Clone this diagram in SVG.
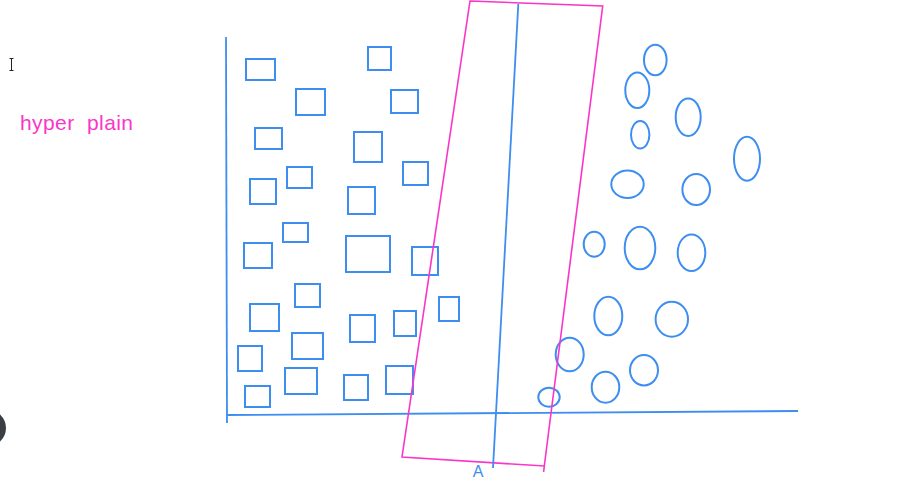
<svg xmlns="http://www.w3.org/2000/svg" width="909" height="481" viewBox="0 0 909 481">
<style>
.sq{fill:none;stroke:#3d8ef0;stroke-width:2}
.el{fill:none;stroke:#3d8ef0;stroke-width:2}
.ax{fill:none;stroke:#3d8ef0;stroke-width:1.8}
.mg{fill:none;stroke:#fa35c8;stroke-width:1.6}
.lbl{font-family:"Liberation Sans",Arial,sans-serif}
</style>
<rect width="909" height="481" fill="#ffffff"/>
<g id="cursor"><path d="M9.5 58.5h4M11.5 58.5v12M9.5 70.5h4" stroke="#222" stroke-width="1" fill="none"/></g>
<g id="dot"><circle cx="-12" cy="428" r="18" fill="#3a3f44"/></g>
<g id="label-hyperplain"><text class="lbl" x="20" y="130" font-size="21" fill="#fa35c8" xml:space="preserve" textLength="113" lengthAdjust="spacing">hyper  plain</text></g>
<g id="axes">
<line class="ax" x1="226" y1="37" x2="227" y2="423"/>
<line class="ax" x1="227" y1="415" x2="798" y2="411"/>
</g>
<g id="squares">
<rect class="sq" x="246" y="59" width="29" height="21"/>
<rect class="sq" x="296" y="89" width="29" height="26"/>
<rect class="sq" x="368" y="47" width="23" height="23"/>
<rect class="sq" x="391" y="90" width="27" height="23"/>
<rect class="sq" x="255" y="128" width="27" height="21"/>
<rect class="sq" x="354" y="132" width="28" height="30"/>
<rect class="sq" x="287" y="167" width="25" height="21"/>
<rect class="sq" x="403" y="162" width="25" height="23"/>
<rect class="sq" x="250" y="179" width="26" height="25"/>
<rect class="sq" x="348" y="187" width="27" height="27"/>
<rect class="sq" x="283" y="223" width="25" height="19"/>
<rect class="sq" x="244" y="243" width="28" height="25"/>
<rect class="sq" x="346" y="236" width="44" height="36"/>
<rect class="sq" x="412" y="247" width="26" height="28"/>
<rect class="sq" x="295" y="284" width="25" height="23"/>
<rect class="sq" x="439" y="297" width="20" height="24"/>
<rect class="sq" x="250" y="304" width="29" height="27"/>
<rect class="sq" x="350" y="315" width="25" height="27"/>
<rect class="sq" x="394" y="311" width="22" height="25"/>
<rect class="sq" x="292" y="333" width="31" height="26"/>
<rect class="sq" x="238" y="346" width="24" height="25"/>
<rect class="sq" x="285" y="368" width="32" height="26"/>
<rect class="sq" x="344" y="375" width="24" height="25"/>
<rect class="sq" x="386" y="366" width="27" height="28"/>
<rect class="sq" x="245" y="386" width="25" height="21"/>
</g>
<g id="ellipses">
<ellipse class="el" cx="655.3" cy="60" rx="11.3" ry="15.3"/>
<ellipse class="el" cx="637.3" cy="90.3" rx="12" ry="17.7"/>
<ellipse class="el" cx="688.2" cy="117.2" rx="12.5" ry="18.8"/>
<ellipse class="el" cx="640.2" cy="134.8" rx="9.2" ry="13.8"/>
<ellipse class="el" cx="747" cy="158.7" rx="13" ry="22"/>
<ellipse class="el" cx="627.5" cy="184.2" rx="16.2" ry="13.8"/>
<ellipse class="el" cx="696.2" cy="189.5" rx="13.8" ry="15.5"/>
<ellipse class="el" cx="594.2" cy="244.2" rx="10.5" ry="12.5"/>
<ellipse class="el" cx="640" cy="248" rx="15.3" ry="21.3"/>
<ellipse class="el" cx="691.5" cy="252.7" rx="13.8" ry="18.3"/>
<ellipse class="el" cx="608.3" cy="316" rx="14" ry="19.3"/>
<ellipse class="el" cx="671.8" cy="319.2" rx="16.2" ry="17.5"/>
<ellipse class="el" cx="569.7" cy="354.5" rx="14" ry="16.8"/>
<ellipse class="el" cx="644" cy="370.2" rx="14" ry="15.2"/>
<ellipse class="el" cx="605.5" cy="387.2" rx="13.8" ry="15.5"/>
<ellipse class="el" cx="549" cy="397.2" rx="10.7" ry="9.5"/>
</g>
<g id="hyperplane">
<path class="mg" d="M470 1 L602.7 6 L544.3 466 L402 457 Z"/>
<line class="mg" x1="544.3" y1="466" x2="543.6" y2="472"/>
<line class="ax" x1="518.3" y1="4" x2="493" y2="468"/>
</g>
<g id="label-A"><text class="lbl" x="478" y="477" font-size="16" fill="#3d8ef0" text-anchor="middle">A</text></g>
</svg>
